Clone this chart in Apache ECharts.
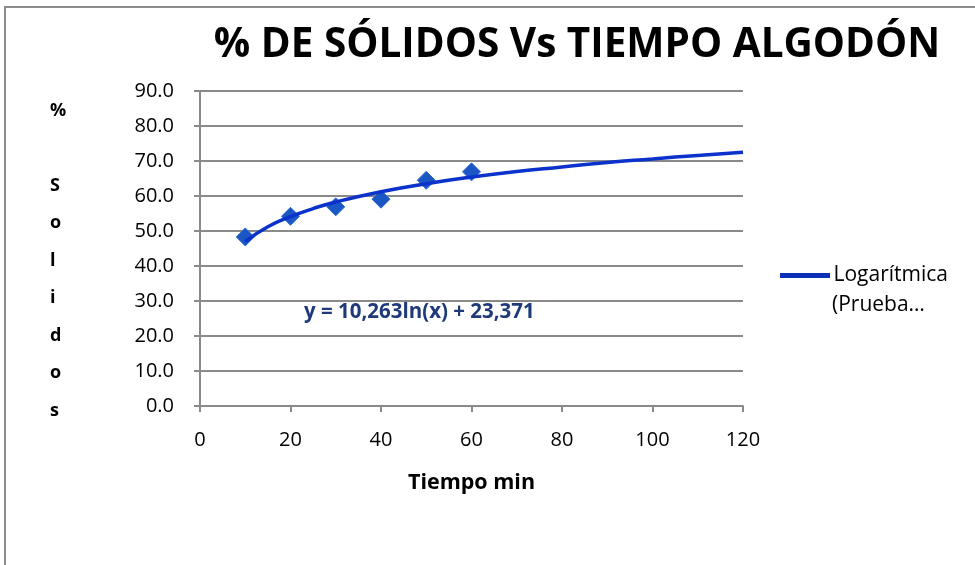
<!DOCTYPE html>
<html><head><meta charset="utf-8">
<script src="https://cdn.jsdelivr.net/npm/echarts@6/dist/echarts.min.js"></script>
<style>html,body{margin:0;padding:0;background:#fff}#c{width:975px;height:565px}</style>
</head><body><div id="c"></div>
<script>
var tiempo = [10, 20, 30, 40, 50, 60];
var solidos = [48.3, 54.2, 56.9, 59.1, 64.5, 66.9];
var trendX = [10, 15, 20, 25, 30, 40, 50, 60, 70, 80, 90, 100, 110, 120];
var trendY = [47.0, 51.2, 54.1, 56.4, 58.3, 61.2, 63.5, 65.4, 67.0, 68.3, 69.6, 70.6, 71.6, 72.5];
var xTicks = [0, 20, 40, 60, 80, 100, 120];
var yTicks = [0, 10, 20, 30, 40, 50, 60, 70, 80, 90];
var titleText = '% DE SÓLIDOS Vs TIEMPO ALGODÓN';
var eqText = 'y = 10,263ln(x) + 23,371';
var legendName = 'Logarítmica (Prueba…';
var legendLine1 = 'Logarítmica';
var legendLine2 = '(Prueba…';

var FONT = 'Open Sans';
var chart = echarts.init(document.getElementById('c'));
var gridCol = '#8a8a8a';
chart.setOption({
  animation: false,
  backgroundColor: '#fff',
  textStyle: {fontFamily: FONT},
  title: {
    text: titleText, left: 572, top: 20, textAlign: 'center',
    textStyle: {fontFamily: FONT, fontWeight: 'bold', fontSize: 40.5, color: '#000', letterSpacing: -0.9}
  },
  grid: {left: 200, right: 232, top: 91, bottom: 159},
  legend: {
    data: [{name: legendName, icon: 'path://M0,0 H10 V1 H0 Z'}],
    formatter: function(){ return legendLine1; },
    left: 775, top: 260, itemWidth: 55, itemHeight: 5, itemGap: 2,
    textStyle: {fontFamily: FONT, fontSize: 21, color: '#000', padding: [0, 0, 0, -4]}
  },
  xAxis: {
    type: 'value', min: 0, max: 120, interval: 20,
    name: 'Tiempo min', nameLocation: 'middle', nameGap: 66,
    nameTextStyle: {fontFamily: FONT, fontWeight: 'bold', fontSize: 21.5, color: '#000'},
    axisLine: {show: true, lineStyle: {color: gridCol, width: 2}},
    axisTick: {show: true, length: 6, lineStyle: {color: gridCol, width: 2}},
    axisLabel: {fontSize: 20, color: '#000', margin: 24, fontFamily: FONT,
      formatter: function(v){ return xTicks.indexOf(v) >= 0 ? String(v) : ''; }},
    splitLine: {show: false}
  },
  yAxis: {
    type: 'value', min: 0, max: 90, interval: 10,
    axisLine: {show: true, lineStyle: {color: gridCol, width: 2}},
    axisTick: {show: true, length: 6, lineStyle: {color: gridCol, width: 2}},
    axisLabel: {fontSize: 20, color: '#000', margin: 26, fontFamily: FONT,
      formatter: function(v){ return yTicks.indexOf(v) >= 0 ? v.toFixed(1) : ''; }},
    splitLine: {show: true, lineStyle: {color: gridCol, width: 2}}
  },
  graphic: [
    {type: 'rect', shape: {x: 5, y: 7, width: 1200, height: 800}, style: {fill: 'none', stroke: '#8c8c8c', lineWidth: 2}, silent: true},
    {type: 'text', left: 50, top: 92, style: {text: '%\n\nS\no\nl\ni\nd\no\ns', font: 'bold 18px "Open Sans"', fill: '#000', lineHeight: 37.5, align: 'center'}},
    {type: 'text', left: 304, top: 302, style: {text: eqText, font: 'bold 20.5px "Open Sans"', fill: '#1f3a7a'}},
    {type: 'text', left: 832, top: 295, style: {text: legendLine2, font: '21px "Open Sans"', fill: '#000'}}
  ],
  series: [
    {
      type: 'scatter', name: 'datos', data: tiempo.map(function(t, i){ return [t, solidos[i]]; }),
      symbol: 'diamond', symbolSize: [18, 18],
      itemStyle: {color: '#1a56c4', borderColor: '#2f6ad0', borderWidth: 1, opacity: 1}
    },
    {
      type: 'line', name: legendName, smooth: true, showSymbol: false, symbol: 'none',
      data: trendX.map(function(t, i){ return [t, trendY[i]]; }),
      lineStyle: {color: '#0c32cc', width: 3.5},
      itemStyle: {color: '#0c2fb8'}, z: 3
    }
  ]
});
</script></body></html>
